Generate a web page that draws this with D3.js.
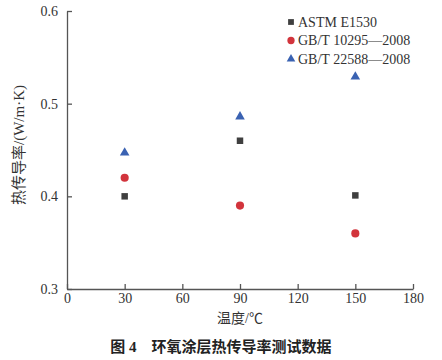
<!DOCTYPE html>
<meta charset="utf-8">
<style>
body { margin: 0; background: #fff; }
text { font-family: "Liberation Serif", "Noto Sans CJK SC", serif; fill: #333; }
</style>
<svg width="442" height="360"></svg>
<script src="https://d3js.org/d3.v7.min.js"></script>
<script>

var temps = [30, 90, 150];
var astm = [0.400, 0.460, 0.401];
var gb10295 = [0.420, 0.390, 0.360];
var gb22588 = [0.447, 0.486, 0.529];
var seriesNames = ["ASTM E1530", "GB/T 10295\u20142008", "GB/T 22588\u20142008"];
var xTicks = [0, 30, 60, 90, 120, 150, 180];
var yTicks = [0.3, 0.4, 0.5, 0.6];

var svg = d3.select("svg"),
    margin = {top: 11, right: 29, bottom: 71, left: 67},
    width = +svg.attr("width") - margin.left - margin.right,
    height = +svg.attr("height") - margin.top - margin.bottom;

var x = d3.scaleLinear().domain([0, 180]).range([0, width]),
    y = d3.scaleLinear().domain([0.3, 0.6]).range([height, 0]);

var g = svg.append("g")
    .attr("transform", "translate(" + margin.left + "," + margin.top + ")");

var axisColor = "#555";

// x axis, ticks pointing up
var xAxis = g.append("g")
    .attr("transform", "translate(0," + height + ")")
    .call(d3.axisBottom(x).tickValues(xTicks).tickSizeInner(-5).tickSizeOuter(0).tickPadding(4));
xAxis.select(".domain").attr("stroke", axisColor).attr("stroke-width", 1.3);
xAxis.selectAll(".tick line").attr("stroke", axisColor).attr("stroke-width", 1.3);
xAxis.selectAll(".tick text").attr("font-size", 14).style("fill", "#333")
    .attr("font-family", "Liberation Serif");

// y axis, ticks pointing right
var yAxis = g.append("g")
    .call(d3.axisLeft(y).tickValues(yTicks).tickFormat(d3.format(".1f")).tickSizeInner(-5).tickSizeOuter(0).tickPadding(9));
yAxis.select(".domain").attr("stroke", axisColor).attr("stroke-width", 1.3);
yAxis.selectAll(".tick line").attr("stroke", axisColor).attr("stroke-width", 1.3);
yAxis.selectAll(".tick text").attr("font-size", 14).style("fill", "#333")
    .attr("font-family", "Liberation Serif");

var series = [
  {name: seriesNames[0], values: astm, color: "#3f3f3f", symbol: d3.symbolSquare, size: 42},
  {name: seriesNames[1], values: gb10295, color: "#d2343c", symbol: d3.symbolCircle, size: 52},
  {name: seriesNames[2], values: gb22588, color: "#3a62b2", symbol: d3.symbolTriangle, size: 40}
];

series.forEach(function(s) {
  g.selectAll(null)
      .data(s.values)
    .enter().append("path")
      .attr("d", d3.symbol().type(s.symbol).size(s.size))
      .attr("transform", function(d, i) { return "translate(" + x(temps[i]) + "," + y(d) + ")"; })
      .attr("fill", s.color);
});

// legend
var legend = svg.append("g").attr("transform", "translate(291,22)");
series.forEach(function(s, i) {
  var row = legend.append("g").attr("transform", "translate(0," + (i * 18.5) + ")");
  row.append("path")
      .attr("d", d3.symbol().type(s.symbol).size(s.size * 0.8))
      .attr("fill", s.color);
  row.append("text")
      .attr("x", 7)
      .attr("dy", "0.35em")
      .attr("font-size", 14)
      .text(s.name);
});

// axis titles
svg.append("text")
    .attr("x", margin.left + width / 2)
    .attr("y", 323)
    .attr("text-anchor", "middle")
    .attr("font-size", 14)
    .text("温度/℃");

svg.append("text")
    .attr("transform", "translate(24," + (margin.top + height / 2 - 5) + ") rotate(-90)")
    .attr("text-anchor", "middle")
    .attr("font-size", 15)
    .text("热传导率/(W/m·K)");

// caption
svg.append("text")
    .attr("x", 221)
    .attr("y", 352)
    .attr("text-anchor", "middle")
    .attr("font-size", 15)
    .attr("font-weight", "bold")
    .style("fill", "#222")
    .attr("xml:space", "preserve")
    .text("图 4    环氧涂层热传导率测试数据");

</script>
